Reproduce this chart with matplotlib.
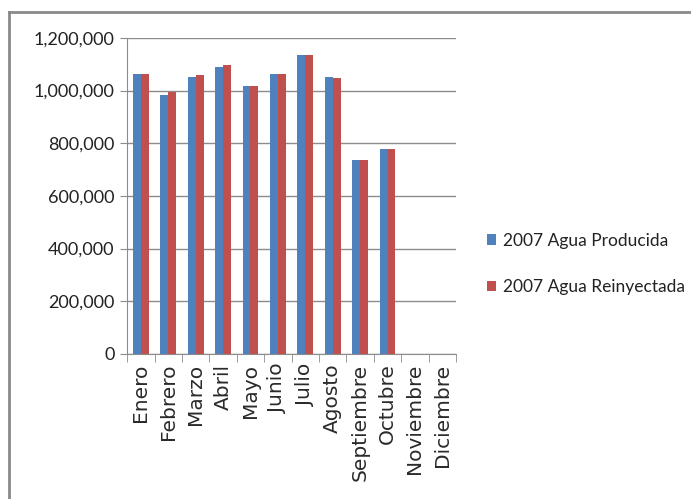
import matplotlib.pyplot as plt
from matplotlib.lines import Line2D
from matplotlib.ticker import FuncFormatter, FixedLocator

plt.rcParams['font.family'] = ['Lato', 'DejaVu Sans']

# monthly water volumes, 2007
meses = ['Enero', 'Febrero', 'Marzo', 'Abril', 'Mayo', 'Junio', 'Julio',
         'Agosto', 'Septiembre', 'Octubre', 'Noviembre', 'Diciembre']
producida = [1064000, 985000, 1051000, 1091000, 1017000, 1064000, 1135000,
             1051000, 735000, 778000, 0, 0]
reinyectada = [1064000, 994000, 1059000, 1096000, 1017000, 1064000, 1135000,
               1048000, 735000, 778000, 0, 0]

azul = '#4F81BD'
rojo = '#C0504D'

fig = plt.figure(figsize=(6.91, 4.99), dpi=100)
ax = fig.add_axes([0.184, 0.291, 0.476, 0.633])

x = list(range(len(meses)))
w = 0.29
ax.bar([i - w / 2 for i in x], producida, w, color=azul, label='2007 Agua Producida', zorder=3)
ax.bar([i + w / 2 for i in x], reinyectada, w, color=rojo, label='2007 Agua Reinyectada', zorder=3)

ax.set_xlim(-0.5, len(meses) - 0.5)
ax.set_ylim(0, 1200000)
ax.set_yticks(range(0, 1200001, 200000))
ax.yaxis.set_major_formatter(FuncFormatter(lambda v, p: f'{int(v):,}'))
ax.grid(axis='y', color='#8c8c8c', linewidth=1, zorder=0)

# month names centred under each pair of bars, tick marks on the boundaries
ax.set_xticks(x, meses, rotation=90)
ax.xaxis.set_minor_locator(FixedLocator([i - 0.5 for i in range(len(meses) + 1)]))
ax.tick_params(axis='x', which='minor', length=6, color='#8c8c8c')
ax.tick_params(axis='x', which='major', length=0, pad=7, labelsize=14.5,
               labelcolor='#2a2a2a', labelfontfamily='DejaVu Sans')
ax.tick_params(axis='y', labelsize=13, labelcolor='#222222', length=5, color='#8c8c8c', pad=4)

for s in ['top', 'right']:
    ax.spines[s].set_visible(False)
ax.spines['left'].set_color('#8c8c8c')
ax.spines['bottom'].set_color('#8c8c8c')

leg = fig.legend(loc='upper left', bbox_to_anchor=(0.682, 0.565), frameon=False,
                 fontsize=12.5, handlelength=0.55, handleheight=0.55, handletextpad=0.35,
                 labelspacing=1.75, labelcolor='#222222')

# outer chart frame
fig.add_artist(Line2D([9 / 691, 9 / 691], [0, 1 - 12 / 499], color='#8a8a8a', linewidth=2,
                      transform=fig.transFigure))
fig.add_artist(Line2D([9 / 691, 1], [1 - 12 / 499, 1 - 12 / 499], color='#8a8a8a', linewidth=2,
                      transform=fig.transFigure))

fig.savefig('out.png', dpi=100)
